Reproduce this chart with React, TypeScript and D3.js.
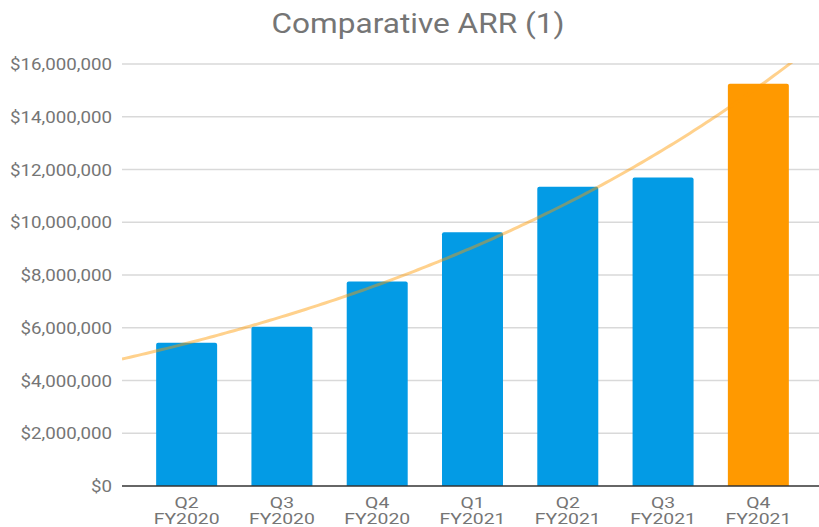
import * as d3 from 'd3';

const quarters = ['Q2', 'Q3', 'Q4', 'Q1', 'Q2', 'Q3', 'Q4'];
const fiscalYears = ['FY2020', 'FY2020', 'FY2020', 'FY2021', 'FY2021', 'FY2021', 'FY2021'];
const arrValues = [5430000, 6040000, 7750000, 9620000, 11350000, 11700000, 15250000];
const yTicks = [0, 2000000, 4000000, 6000000, 8000000, 10000000, 12000000, 14000000, 16000000];

const width = 819;
const height = 527;
const plot = { left: 122, right: 819, top: 64, bottom: 486 };
const stretch = 1.17; // the reference glyphs are a bit wide

const App = () => {
  const keys = arrValues.map((_, i) => String(i));
  const x = d3.scaleBand<string>()
    .domain(keys)
    .range([139, 806])
    .paddingInner(0.36)
    .paddingOuter(0.18);
  const y = d3.scaleLinear().domain([0, 16000000]).range([plot.bottom, plot.top]);

  // exponential trendline fitted to the bar values
  const xs = arrValues.map((_, i) => i + 1);
  const ls = arrValues.map(v => Math.log(v));
  const mx = d3.mean(xs) as number;
  const ml = d3.mean(ls) as number;
  const slope = d3.sum(xs.map((v, i) => (v - mx) * (ls[i] - ml))) / d3.sum(xs.map(v => (v - mx) ** 2));
  const icpt = ml - slope * mx;
  const step = x.step();
  const c0 = (x('0') as number) + x.bandwidth() / 2;
  const pxToIdx = (px: number) => (px - c0) / step + 1;
  const trendPts = d3.range(plot.left, plot.right, 4).map(px => [px, y(Math.exp(icpt + slope * pxToIdx(px)))] as [number, number]);
  const trendPath = d3.line()(trendPts) as string;

  const fmt = (v: number) => '$' + d3.format(',')(v);
  const tr = (tx: number, ty: number, s = stretch) => `translate(${tx},${ty}) scale(${s},1)`;

  return (
    <svg width={width} height={height} style={{ position: 'absolute', left: 0, top: 0 }} fontFamily="Roboto, sans-serif">
      <defs>
        <clipPath id="plotclip">
          <rect x={plot.left} y={plot.top - 1} width={plot.right - plot.left} height={plot.bottom - plot.top + 1} />
        </clipPath>
      </defs>
      <rect width={width} height={height} fill="#fff" />
      <text transform={tr(418, 33)} textAnchor="middle" fontSize={27} fill="#757575">Comparative ARR (1)</text>
      {yTicks.map(t => (
        <g key={t}>
          {t > 0 && <line x1={plot.left} x2={plot.right} y1={y(t)} y2={y(t)} stroke="#d9d9d9" strokeWidth={1.3} />}
          <text transform={tr(112, y(t) + 6)} textAnchor="end" fontSize={16} fill="#757575">{fmt(t)}</text>
        </g>
      ))}
      {arrValues.map((v, i) => {
        const bx = x(String(i)) as number;
        const by = y(v);
        const bw = x.bandwidth();
        const r = 2;
        return (
          <path
            key={i}
            d={`M${bx},${plot.bottom}V${by + r}Q${bx},${by} ${bx + r},${by}H${bx + bw - r}Q${bx + bw},${by} ${bx + bw},${by + r}V${plot.bottom}Z`}
            fill={i === arrValues.length - 1 ? '#ff9900' : '#039be5'}
          />
        );
      })}
      <line x1={plot.left} x2={plot.right} y1={plot.bottom} y2={plot.bottom} stroke="#333" strokeWidth={1.3} />
      <path d={trendPath} fill="none" stroke="#ff9900" strokeOpacity={0.45} strokeWidth={3} clipPath="url(#plotclip)" />
      {quarters.map((q, i) => {
        const cx = (x(String(i)) as number) + x.bandwidth() / 2;
        return (
          <g key={i}>
            <text transform={tr(cx, 508, 1.25)} textAnchor="middle" fontSize={15.5} fill="#757575">{q}</text>
            <text transform={tr(cx, 524, 1.25)} textAnchor="middle" fontSize={15.5} fill="#757575">{fiscalYears[i]}</text>
          </g>
        );
      })}
    </svg>
  );
};

export default App;
